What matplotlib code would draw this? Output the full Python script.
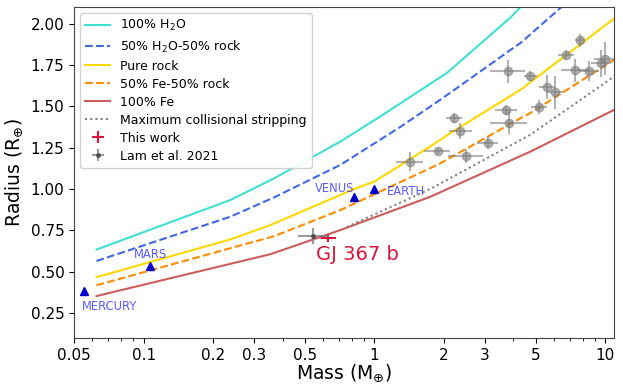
import matplotlib
matplotlib.use("Agg")
import matplotlib.pyplot as plt
from matplotlib.ticker import FixedLocator, FixedFormatter, LogLocator, NullFormatter

# ---- model curves (mass in Earth masses, radius in Earth radii) ----
h2o_m = [0.0625, 0.237, 0.368, 0.712, 1.06, 2.06, 3.87, 4.31]
h2o_r = [0.634, 0.933, 1.065, 1.287, 1.439, 1.702, 2.035, 2.103]

h2o50_m = [0.0625, 0.237, 0.368, 0.712, 1.27, 1.93, 3.40, 3.81, 4.3, 6.49]
h2o50_r = [0.565, 0.832, 0.950, 1.146, 1.368, 1.540, 1.783, 1.833, 1.884, 2.103]

rock_m = [0.0625, 0.237, 0.354, 0.817, 1.0, 1.8, 2.13, 4.3, 10.93]
rock_r = [0.467, 0.695, 0.782, 1.0, 1.045, 1.27, 1.338, 1.601, 2.031]

fe50_m = [0.0625, 0.237, 0.368, 0.712, 1.743, 1.93, 4.3, 4.73, 10.93]
fe50_r = [0.418, 0.642, 0.715, 0.873, 1.126, 1.156, 1.429, 1.459, 1.782]

fe_m = [0.0625, 0.354, 0.712, 1.743, 4.73, 10.93]
fe_r = [0.353, 0.606, 0.752, 0.953, 1.226, 1.479]

strip_m = [0.76, 1.743, 4.3, 4.73, 10.93]
strip_r = [0.771, 1.0, 1.297, 1.328, 1.681]

# ---- other planets (gray points) ----
pl_m = [1.43, 1.875, 2.21, 2.35, 2.49, 3.09, 3.71, 3.83, 3.78, 4.73, 5.14, 5.59,
        6.07, 6.75, 7.41, 7.73, 8.51, 9.93, 9.6]
pl_r = [1.166, 1.231, 1.429, 1.352, 1.200, 1.281, 1.475, 1.402, 1.711, 1.681,
        1.496, 1.617, 1.584, 1.813, 1.718, 1.899, 1.716, 1.787, 1.76]
pl_mlo = [0.19, 0.23, 0.17, 0.25, 0.40, 0.32, 0.38, 0.65, 0.62, 0.31, 0.40, 0.43,
          0.46, 0.51, 0.99, 0.31, 0.79, 1.0, 0.9]
pl_mhi = [0.20, 0.25, 0.18, 0.30, 0.45, 0.35, 0.42, 0.75, 0.70, 0.34, 0.44, 0.47,
          0.50, 0.56, 1.10, 0.33, 0.89, 1.1, 1.0]
pl_re = [0.06, 0.02, 0.03, 0.05, 0.04, 0.04, 0.03, 0.07, 0.07, 0.03, 0.04, 0.07,
         0.10, 0.03, 0.07, 0.04, 0.06, 0.10, 0.08]

# ---- GJ 367 b ----
lam_m, lam_r = [0.544], [0.717]
lam_mlo, lam_mhi, lam_re = [0.08], [0.09], [0.05]
tw_m, tw_r = [0.632], [0.705]
tw_mlo, tw_mhi, tw_re = [0.045], [0.05], [0.026]

# ---- solar system ----
ss_names = ["MERCURY", "MARS", "VENUS", "EARTH"]
ss_m = [0.0553, 0.107, 0.815, 1.0]
ss_r = [0.383, 0.532, 0.949, 1.0]

xticks = [0.05, 0.1, 0.2, 0.3, 0.5, 1, 2, 3, 5, 10]
xticklabels = ["0.05", "0.1", "0.2", "0.3", "0.5", "1", "2", "3", "5", "10"]
yticks = [0.25, 0.5, 0.75, 1.0, 1.25, 1.5, 1.75, 2.0]

fig = plt.figure(figsize=(6.23, 3.92), dpi=100)
ax = fig.add_axes([0.119, 0.138, 0.867, 0.844])

ax.plot(h2o_m, h2o_r, color="turquoise", lw=1.5, label="100% H$_2$O")
ax.plot(h2o50_m, h2o50_r, color="royalblue", lw=1.5, ls="--", label="50% H$_2$O-50% rock")
ax.plot(rock_m, rock_r, color="gold", lw=1.5, label="Pure rock")
ax.plot(fe50_m, fe50_r, color="darkorange", lw=1.5, ls="--", label="50% Fe-50% rock")
ax.plot(fe_m, fe_r, color="indianred", lw=1.5, label="100% Fe")
ax.plot(strip_m, strip_r, color="gray", lw=1.5, ls=(0, (1, 1.5)), label="Maximum collisional stripping")

ax.errorbar(pl_m, pl_r, xerr=[pl_mlo, pl_mhi], yerr=pl_re, fmt="o", color="gray",
            ms=6, alpha=0.6, elinewidth=1.5, capsize=0)

ax.errorbar(tw_m, tw_r, xerr=[tw_mlo, tw_mhi], yerr=tw_re, fmt="none", ecolor="crimson",
            elinewidth=1.5, capsize=0, label="This work")
ax.errorbar(lam_m, lam_r, xerr=[lam_mlo, lam_mhi], yerr=lam_re, fmt=".", color="#444444",
            ecolor="gray", ms=5, elinewidth=1.5, alpha=0.8, capsize=0, label="Lam et al. 2021")
ax.text(0.56, 0.66, "GJ 367 b", color="crimson", fontsize=14, ha="left", va="top")

ax.plot(ss_m, ss_r, "^", color="mediumblue", ms=6, ls="none")
lab_pos = {"MERCURY": (0.0541, 0.29, "left"), "MARS": (0.107, 0.605, "center"),
           "VENUS": (0.553, 1.006, "left"), "EARTH": (1.136, 0.988, "left")}
for n in ss_names:
    x, y, ha = lab_pos[n]
    ax.text(x, y, n, color="blue", alpha=0.65, fontsize=8.3, ha=ha, va="center")

ax.set_xscale("log")
ax.set_xlim(0.05, 10.93)
ax.set_ylim(0.1, 2.1)
ax.xaxis.set_major_locator(FixedLocator(xticks))
ax.xaxis.set_major_formatter(FixedFormatter(xticklabels))
ax.xaxis.set_minor_locator(LogLocator(base=10, subs=range(1, 10)))
ax.xaxis.set_minor_formatter(NullFormatter())
ax.set_yticks(yticks)
ax.tick_params(labelsize=11)
ax.set_xlabel("Mass (M$_{\\oplus}$)", fontsize=13.5, labelpad=0)
ax.set_ylabel("Radius (R$_{\\oplus}$)", fontsize=13.5)
for s in ax.spines.values():
    s.set_color("#444444")

ax.legend(loc="upper left", fontsize=9, labelspacing=0.4, framealpha=0.9)

fig.savefig("out.png", dpi=100)
